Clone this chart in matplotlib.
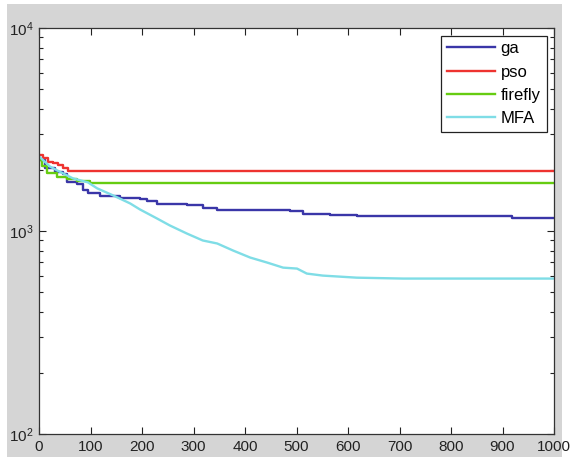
import matplotlib
matplotlib.use("Agg")
import matplotlib.pyplot as plt

plt.rcParams['font.family'] = ['Liberation Sans', 'DejaVu Sans']

# Data (iteration, best fitness)
ga_x = [0, 12, 31, 47, 54, 74, 85, 95, 118, 157, 196, 210, 229, 287, 318, 346, 487, 513, 565, 617, 915, 918, 1000]
ga_y = [2229, 2036, 1945, 1901, 1737, 1698, 1585, 1532, 1481, 1447, 1431, 1399, 1352, 1337, 1292, 1262, 1248, 1219, 1205, 1179, 1179, 1153, 1153]

pso_x = [0, 8, 17, 27, 37, 47, 56, 1000]
pso_y = [2359, 2280, 2178, 2153, 2105, 2036, 1967, 1967]

ff_x = [0, 6, 16, 35, 54, 74, 99, 1000]
ff_y = [2229, 2081, 1922, 1837, 1797, 1756, 1717, 1717]

mfa_x = [0, 21, 35, 66, 95, 113, 144, 177, 196, 229, 254, 287, 318, 346, 377, 410, 443, 474, 501, 520, 551, 617, 707, 1000]
mfa_y = [2333, 2080, 1990, 1816, 1736, 1622, 1497, 1367, 1277, 1153, 1065, 972, 898, 868, 801, 740, 699, 660, 653, 617, 603, 589, 583, 583]

labels = ['ga', 'pso', 'firefly', 'MFA']
colors = ['#3a36a8', '#ee3330', '#66cc11', '#7fdde6']
xticks = [0, 100, 200, 300, 400, 500, 600, 700, 800, 900, 1000]

fig = plt.figure(figsize=(5.73, 4.59), dpi=100, facecolor='white')
bg = fig.add_axes([7/573, 2/459, 555/573, 453/459], zorder=-5)
bg.set_facecolor('#d5d5d5')
bg.set_xticks([]); bg.set_yticks([])
for s in bg.spines.values():
    s.set_visible(False)

ax = fig.add_axes([39/573, 1 - 434/459, 515/573, 406/459], zorder=1)
ax.set_facecolor('white')

ax.plot(ga_x, ga_y, color=colors[0], lw=1.7, drawstyle='steps-post', label=labels[0])
ax.plot(pso_x, pso_y, color=colors[1], lw=1.7, drawstyle='steps-post', label=labels[1])
ax.plot(ff_x, ff_y, color=colors[2], lw=1.7, drawstyle='steps-post', label=labels[2])
ax.plot(mfa_x, mfa_y, color=colors[3], lw=1.7, label=labels[3])

ax.set_yscale('log')
ax.set_ylim(100, 10000)
ax.set_xlim(0, 1000)
ax.set_xticks(xticks)
ax.set_xticklabels([str(t) for t in xticks])

ax.tick_params(which='both', direction='in', top=True, right=True, labelsize=11,
               colors='#222222', pad=4)
ax.tick_params(which='major', length=5, width=0.8)
ax.tick_params(which='minor', length=3, width=0.8)
for s in ax.spines.values():
    s.set_color('#333333')
    s.set_linewidth(0.9)

leg = ax.legend(loc='upper right', fancybox=False, framealpha=1, edgecolor='#222222',
                fontsize=12, handlelength=2.9, borderpad=0.35, labelspacing=0.5,
                handletextpad=0.35, borderaxespad=0.45)
leg.get_frame().set_linewidth(0.9)

fig.savefig('out.png', dpi=100, facecolor='white')
